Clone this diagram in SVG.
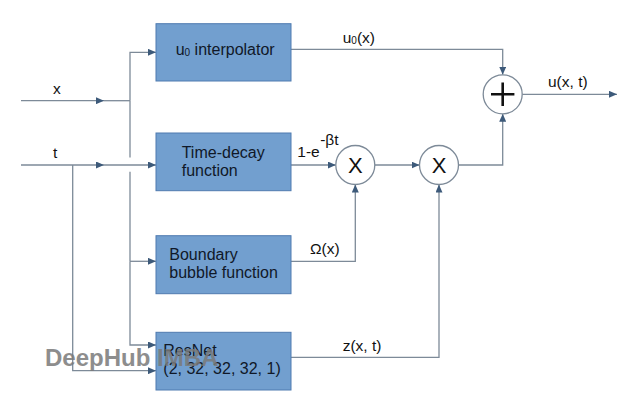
<svg xmlns="http://www.w3.org/2000/svg" width="640" height="416" viewBox="0 0 640 416">
<style>
.box{fill:#729fcf;stroke:#4f7bb0;stroke-width:1}
.bt{font-family:"Liberation Sans",Arial,sans-serif;font-size:16px;fill:#101828}
.lb{font-family:"Liberation Sans",Arial,sans-serif;font-size:15.5px;fill:#111}
.ln{fill:none;stroke:#7d8a98;stroke-width:1.3}
.op{fill:#fff;stroke:#7d8a98;stroke-width:1.3}
.sym{font-family:"Liberation Sans",Arial,sans-serif;font-size:22px;fill:#111;text-anchor:middle}
.wm{font-family:"Liberation Sans",Arial,sans-serif;font-size:24px;font-weight:bold;fill:#7a7a7a;opacity:0.85}
</style>
<defs>
<marker id="ah" viewBox="0 0 8 7" refX="8" refY="3.5" markerWidth="8" markerHeight="7" markerUnits="userSpaceOnUse" orient="auto">
<path d="M0,0 L8,3.5 L0,7 z" fill="#3d5a7a"/>
</marker>
</defs>
<rect width="640" height="416" fill="#fff"/>
<g id="connectors">
<line class="ln" x1="21" y1="100.7" x2="104" y2="100.7" marker-end="url(#ah)"/>
<line class="ln" x1="104" y1="100.7" x2="130" y2="100.7"/>
<line class="ln" x1="21" y1="165" x2="104" y2="165" marker-end="url(#ah)"/>
<line class="ln" x1="104" y1="165" x2="156" y2="165" marker-end="url(#ah)"/>
<polyline class="ln" points="130,100.7 130,52.3 156,52.3" marker-end="url(#ah)"/>
<line class="ln" x1="130" y1="100.7" x2="130" y2="157.5"/>
<line class="ln" x1="130" y1="171.7" x2="130" y2="261.3"/>
<line class="ln" x1="130" y1="261.3" x2="156" y2="261.3" marker-end="url(#ah)"/>
<polyline class="ln" points="130,261.3 130,345 156,345" marker-end="url(#ah)"/>
<polyline class="ln" points="72.7,165 72.7,370.7 156,370.7" marker-end="url(#ah)"/>
<polyline class="ln" points="291,49.3 502.7,49.3 502.7,74.8" marker-end="url(#ah)"/>
<line class="ln" x1="291" y1="165" x2="335.8" y2="165" marker-end="url(#ah)"/>
<line class="ln" x1="374.8" y1="165" x2="419.5" y2="165" marker-end="url(#ah)"/>
<polyline class="ln" points="458.5,165 502.7,165 502.7,113.8" marker-end="url(#ah)"/>
<polyline class="ln" points="291,261.3 355.3,261.3 355.3,184.5" marker-end="url(#ah)"/>
<polyline class="ln" points="291,357.3 439,357.3 439,184.5" marker-end="url(#ah)"/>
<line class="ln" x1="522.2" y1="94.3" x2="617" y2="94.3" marker-end="url(#ah)"/>
</g>
<g id="labels">
<text class="lb" x="53" y="94">x</text>
<text class="lb" x="53" y="158">t</text>
<text class="lb" x="342.7" y="42.7">u<tspan font-size="10" dy="1">0</tspan><tspan dy="-1">(x)</tspan></text>
<text class="lb" x="548" y="87">u(x, t)</text>
<text class="lb" x="297.3" y="156.7">1-e<tspan font-size="15.5" dx="0.5" dy="-11.5">-βt</tspan></text>
<text class="lb" x="310" y="254">Ω(x)</text>
<text class="lb" x="342.7" y="350.7">z(x, t)</text>
</g>
<g id="node-u0">
<rect class="box" x="156" y="23.7" width="135" height="57.3"/>
<text class="bt" x="175.7" y="55">u<tspan font-size="10" dy="1">0</tspan><tspan dy="-1"> interpolator</tspan></text>
</g>
<g id="node-timedecay">
<rect class="box" x="156" y="133" width="135" height="57.7"/>
<text class="bt" x="181.7" y="157.5">Time-decay</text>
<text class="bt" x="181.7" y="175.7">function</text>
</g>
<g id="node-boundary">
<rect class="box" x="156" y="235.7" width="135" height="58"/>
<text class="bt" x="169.3" y="260">Boundary</text>
<text class="bt" x="169.3" y="277.7">bubble function</text>
</g>
<g id="node-resnet">
<rect class="box" x="156" y="332.3" width="135" height="57.7"/>
<text class="bt" x="163.3" y="355.7">ResNet</text>
<text class="bt" x="163.3" y="374">(2, 32, 32, 32, 1)</text>
</g>
<g id="node-mul1">
<circle class="op" cx="355.3" cy="165" r="19.5"/>
<text class="sym" x="355.3" y="173">X</text>
</g>
<g id="node-mul2">
<circle class="op" cx="439" cy="165" r="19.5"/>
<text class="sym" x="439" y="173">X</text>
</g>
<g id="node-sum">
<circle class="op" cx="502.7" cy="94.3" r="19.5"/>
<path d="M491,94.3 H514.4 M502.7,82.6 V106" stroke="#111" stroke-width="2.6"/>
</g>
<text class="wm" x="45" y="365.7">DeepHub IMBA</text>
</svg>
